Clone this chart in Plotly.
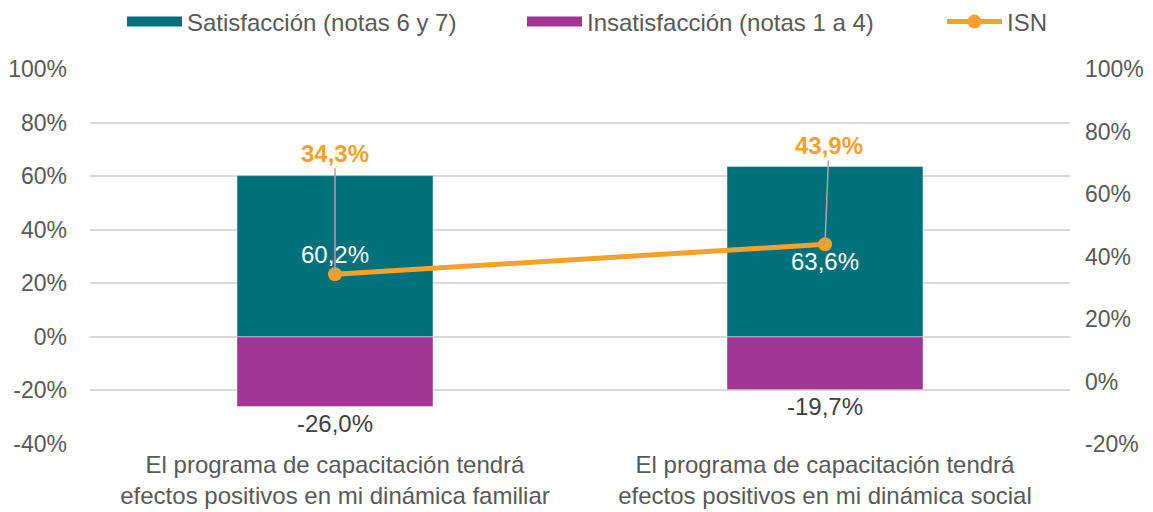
import plotly.graph_objects as go

categories = ["El programa de capacitación tendrá<br>efectos positivos en mi dinámica familiar",
              "El programa de capacitación tendrá<br>efectos positivos en mi dinámica social"]
satisfaccion = [60.2, 63.6]
insatisfaccion = [-26.0, -19.7]
isn = [34.3, 43.9]
left_ticks = [-40, -20, 0, 20, 40, 60, 80, 100]
left_ticktext = ["-40%", "-20%", "0%", "20%", "40%", "60%", "80%", "100%"]
right_ticks = [-20, 0, 20, 40, 60, 80, 100]
right_ticktext = ["-20%", "0%", "20%", "40%", "60%", "80%", "100%"]

TEAL = "#00717B"
MAGENTA = "#A03593"
ORANGE = "#F7A12C"
GRAY = "#595959"
FONT = "Liberation Sans, Arial, sans-serif"
FS = 24

# page body has an 8px margin; size the figure so the plot lands where the reference has it
W, H = 1145, 504
ML, MR, MT, MB = 82, 83, 61, 68
PW = W - ML - MR
PH = H - MT - MB

fig = go.Figure()
fig.add_trace(go.Bar(x=categories, y=satisfaccion, name="Satisfacción (notas 6 y 7)",
                     marker_color=TEAL, width=0.4, hoverinfo="skip", showlegend=False))
fig.add_trace(go.Bar(x=categories, y=insatisfaccion, name="Insatisfacción (notas 1 a 4)",
                     marker_color=MAGENTA, width=0.4, showlegend=False,
                     texttemplate="%{y:.1f}%", textposition="outside",
                     textfont=dict(color="#404040", size=FS, family=FONT), cliponaxis=False))
fig.add_trace(go.Scatter(x=categories, y=isn, name="ISN", yaxis="y2", mode="lines+markers",
                         line=dict(color=ORANGE, width=5), marker=dict(color=ORANGE, size=14),
                         legend="legend3"))

# legend-only entries shaped like wide rectangles
fig.add_trace(go.Scatter(x=[None], y=[None], mode="lines", name="Satisfacción (notas 6 y 7)",
                         line=dict(color=TEAL, width=12), legend="legend"))
fig.add_trace(go.Scatter(x=[None], y=[None], mode="lines", name="Insatisfacción (notas 1 a 4)",
                         line=dict(color=MAGENTA, width=12), legend="legend2"))

# inside labels for satisfaction bars
shifts = [2, -10]
for c, v, s in zip(categories, satisfaccion, shifts):
    fig.add_annotation(x=c, y=v / 2, yref="y", text=f"{v:.1f}%".replace(".", ","),
                       showarrow=False, yshift=s,
                       font=dict(color="white", size=FS, family=FONT))

# ISN labels with leader lines
offs = [(0, -121), (4, -99)]
for c, v, (ax, ay) in zip(categories, isn, offs):
    fig.add_annotation(x=c, y=v, yref="y2", text=f"<b>{v:.1f}%</b>".replace(".", ","),
                       showarrow=True, arrowhead=0, arrowwidth=1.5, arrowcolor="#A6A6A6",
                       ax=ax, ay=ay, standoff=0,
                       font=dict(color=ORANGE, size=FS, family=FONT))

leg_y = 1 + (MT - 14) / PH
leg_common = dict(orientation="h", yanchor="middle", y=leg_y, xanchor="left",
                  font=dict(size=FS, color=GRAY, family=FONT), itemwidth=55,
                  bgcolor="rgba(0,0,0,0)")

fig.update_layout(
    width=W, height=H,
    barmode="relative",
    separators=",.",
    plot_bgcolor="white", paper_bgcolor="white",
    margin=dict(l=ML, r=MR, t=MT, b=MB, autoexpand=False),
    font=dict(family=FONT, color=GRAY, size=FS),
    legend=dict(x=(114 - 82) / PW, **leg_common),
    legend2=dict(x=(514 - 82) / PW, **leg_common),
    legend3=dict(x=(934 - 82) / PW, **leg_common),
    xaxis=dict(range=[-0.5, 1.5], showline=False, ticks="", tickfont=dict(size=FS, color=GRAY),
               ticklabelstandoff=4),
    yaxis=dict(range=[-40, 100], tickvals=left_ticks, ticktext=left_ticktext,
               showgrid=True, gridcolor="#D9D9D9",
               gridwidth=1.5, zeroline=True, zerolinecolor="#D9D9D9", zerolinewidth=1.5,
               tickfont=dict(size=23, color=GRAY), ticklabelstandoff=22),
    yaxis2=dict(range=[-20, 100], tickvals=right_ticks, ticktext=right_ticktext,
                overlaying="y", side="right",
                showgrid=False, zeroline=False, tickfont=dict(size=23, color=GRAY),
                ticklabelstandoff=14),
)

fig.write_html("out.html")
